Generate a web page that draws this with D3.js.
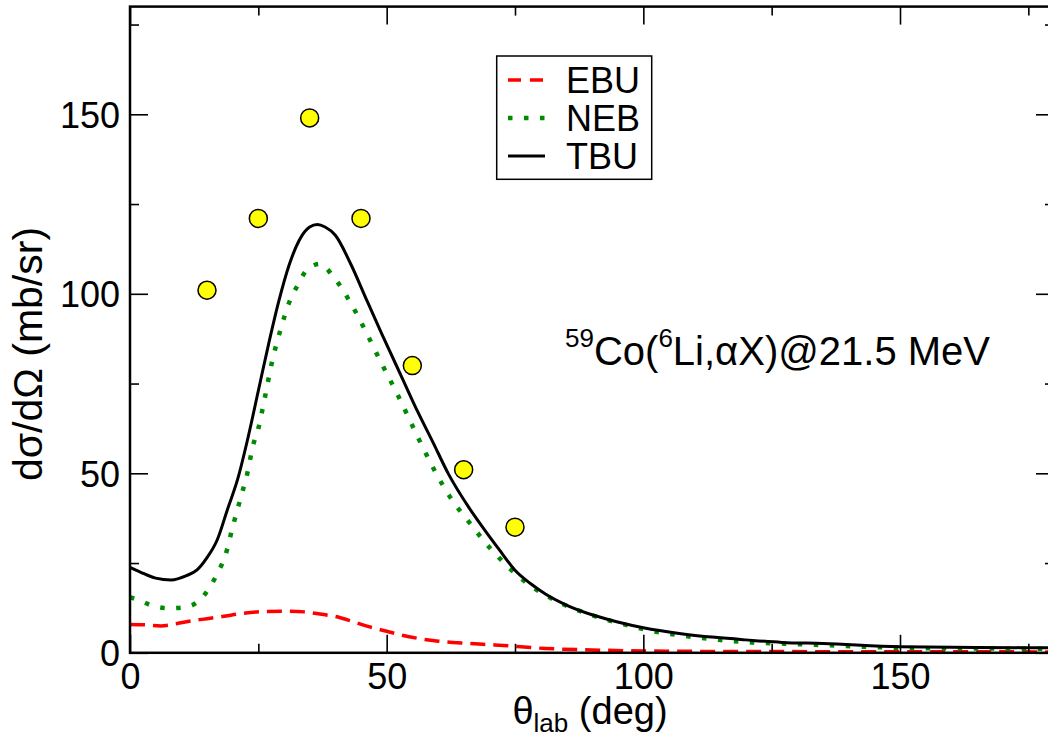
<!DOCTYPE html>
<html>
<head>
<meta charset="utf-8">
<script src="https://cdn.jsdelivr.net/npm/d3@7"></script>
<style>
  body { margin: 0; background: #fff; }
  text { font-family: "Liberation Sans", Arial, sans-serif; fill: #000; }
</style>
</head>
<body>
<svg id="chart"></svg>
<script>
// SET DATA
const tbuAngle = [0, 2, 5, 8, 11, 13, 15, 17, 19, 21, 23, 25, 27, 29, 31, 33, 35, 36.5, 38, 40, 43, 46, 49, 53, 56, 59, 62, 66, 69, 72, 75, 78, 81, 85, 90, 95, 100, 107, 114, 120, 127, 135, 150, 165, 180];
const tbuValue = [23.8, 22.5, 20.8, 20.3, 21.5, 23, 26.5, 31.5, 40, 48.5, 60, 73, 86, 98, 108, 115, 118.6, 119.3, 118.6, 116.3, 108.3, 98.6, 89, 76.6, 67.3, 58.7, 49.9, 40.5, 34.4, 28.6, 23, 19.3, 16.3, 13.3, 10.6, 8.6, 7, 5.4, 4.3, 3.6, 2.9, 2.6, 1.7, 1.5, 1.4];

const nebAngle = [0, 2, 4, 7.5, 10.7, 13.6, 15.6, 17.2, 18.5, 20.1, 21.8, 22.7, 24, 25, 26.3, 27.6, 29.2, 31.2, 32.8, 34.4, 37, 39.6, 43.2, 46.1, 49, 52, 56.2, 59.1, 62.3, 66.2, 70.5, 77.9, 83.4, 89.3, 95.5, 101.6, 108.1, 114.6, 121.1, 130.5, 150, 165, 180];
const nebValue = [15.5, 14.5, 13.3, 12.4, 12.7, 14.7, 18.4, 22.6, 26.8, 35.6, 44.4, 49, 57.9, 62.5, 71.3, 80.6, 89.4, 98.3, 102.7, 106.6, 108.3, 104.8, 96.9, 89, 80.6, 72.3, 59.7, 51.4, 43.5, 36.1, 28.6, 18.8, 14.2, 10.8, 8.2, 6.1, 4.7, 3.6, 2.9, 2.4, 1.4, 1.2, 1.1];

const ebuAngle = [0, 3, 6, 9, 12, 15, 18, 22, 26, 31, 34, 37, 40, 43, 46, 50, 53, 59, 66, 71, 81, 90, 100, 120, 150, 180];
const ebuValue = [7.9, 7.8, 7.5, 8.1, 8.9, 9.5, 10.1, 11, 11.5, 11.6, 11.4, 10.8, 10.1, 8.9, 7.5, 6, 4.9, 3.4, 2.6, 2.2, 1.2, 0.8, 0.5, 0.35, 0.3, 0.25];

const expAngle = [15, 25, 35, 45, 55, 65, 75];
const expValue = [101, 121, 149, 121, 80, 51, 35];

const majorTicks = [0, 50, 100, 150];
const minorTicks = [25, 75, 125, 175];
const legendLabels = ["EBU", "NEB", "TBU"];

// SET VARIABLES
const _canvasWidth = 1048;
const _canvasHeight = 749;
const _plot = {left: 130, right: 1054, top: 6.6, bottom: 652.8};
const _color = {ebu: "#ff0000", neb: "#008b00", tbu: "#000000", point: "#ffff00"};
const _style = {
  EBU: {color: _color.ebu, width: 3.5, dash: "15 8"},
  NEB: {color: _color.neb, width: 4.5, dash: "4.5 11.5"},
  TBU: {color: _color.tbu, width: 3, dash: null}
};

const xScale = d3.scaleLinear().domain([0, 180]).range([_plot.left, _plot.right]);
const yScale = d3.scaleLinear().domain([0, 180]).range([_plot.bottom, _plot.top]);

const svg = d3.select("#chart")
              .attr("width", _canvasWidth)
              .attr("height", _canvasHeight);
    svg.append("rect")
          .attr("width", _canvasWidth)
          .attr("height", _canvasHeight)
          .attr("fill", "#fff");

// CURVES
const lineGen = d3.line()
                  .x(d => xScale(d[0]))
                  .y(d => yScale(d[1]))
                  .curve(d3.curveMonotoneX);

const series = [
  {name: "EBU", data: d3.zip(ebuAngle, ebuValue)},
  {name: "NEB", data: d3.zip(nebAngle, nebValue)},
  {name: "TBU", data: d3.zip(tbuAngle, tbuValue)}
];

const curves = svg.append("g").attr("id", "curves");
    curves.selectAll("path")
          .data(series)
            .enter()
          .append("path")
            .attr("d", d => lineGen(d.data))
            .attr("fill", "none")
            .attr("stroke", d => _style[d.name].color)
            .attr("stroke-width", d => _style[d.name].width)
            .attr("stroke-dasharray", d => _style[d.name].dash);

// EXPERIMENTAL POINTS
    svg.append("g")
          .attr("id", "points")
        .selectAll("circle")
        .data(d3.zip(expAngle, expValue))
          .enter()
        .append("circle")
          .attr("cx", d => xScale(d[0]))
          .attr("cy", d => yScale(d[1]))
          .attr("r", 9)
          .attr("fill", _color.point)
          .attr("stroke", "#000")
          .attr("stroke-width", 1.5);

// AXES (ticks inside on all four sides)
function drawAxis(axisFn, scale, tr, ticks, size, showLabels) {
  let g = svg.append("g")
              .attr("transform", tr)
              .call(axisFn(scale)
                      .tickValues(ticks)
                      .tickSizeInner(-size)
                      .tickSizeOuter(0)
                      .tickPadding(12)
                      .tickFormat(showLabels ? d3.format("d") : ""));
      g.select(".domain").remove();
      g.selectAll(".tick line").attr("stroke", "#000").attr("stroke-width", 1.6);
      g.selectAll(".tick text")
          .attr("font-size", 36)
          .attr("font-family", "Liberation Sans, Arial, sans-serif");
  return g;
}

drawAxis(d3.axisBottom, xScale, `translate(0,${_plot.bottom})`, majorTicks, 18, true)
  .selectAll(".tick text").attr("dy", 0).attr("y", 36);
drawAxis(d3.axisBottom, xScale, `translate(0,${_plot.bottom})`, minorTicks, 9, false);
drawAxis(d3.axisTop, xScale, `translate(0,${_plot.top})`, majorTicks, 18, false);
drawAxis(d3.axisTop, xScale, `translate(0,${_plot.top})`, minorTicks, 9, false);
drawAxis(d3.axisLeft, yScale, `translate(${_plot.left},0)`, majorTicks, 18, true)
  .selectAll(".tick text").attr("x", -10).attr("dy", "0.36em");
drawAxis(d3.axisLeft, yScale, `translate(${_plot.left},0)`, minorTicks, 9, false);
drawAxis(d3.axisRight, yScale, `translate(${_plot.right},0)`, majorTicks, 18, false);
drawAxis(d3.axisRight, yScale, `translate(${_plot.right},0)`, minorTicks, 9, false);

    svg.append("rect")
          .attr("x", _plot.left)
          .attr("y", _plot.top)
          .attr("width", _plot.right - _plot.left)
          .attr("height", _plot.bottom - _plot.top)
          .attr("fill", "none")
          .attr("stroke", "#000")
          .attr("stroke-width", 2.5);

// AXIS TITLES
let xTitle = svg.append("text")
                  .attr("x", 590)
                  .attr("y", 724)
                  .attr("text-anchor", "middle")
                  .attr("font-size", 38);
    xTitle.append("tspan").text("θ");
    xTitle.append("tspan").attr("font-size", 26).attr("dy", 8).text("lab");
    xTitle.append("tspan").attr("dy", -8).text(" (deg)");

    svg.append("text")
          .attr("transform", `translate(42,354) rotate(-90)`)
          .attr("text-anchor", "middle")
          .attr("font-size", 41)
          .text("dσ/dΩ (mb/sr)");

// ANNOTATION
let note = svg.append("text")
                .attr("x", 565)
                .attr("y", 365)
                .attr("font-size", 40);
    note.append("tspan").attr("font-size", 26).attr("dy", -18).text("59");
    note.append("tspan").attr("dy", 18).text("Co(");
    note.append("tspan").attr("font-size", 26).attr("dy", -18).text("6");
    note.append("tspan").attr("dy", 18).text("Li,αX)@21.5 MeV");

// LEGEND
let legend = svg.append("g").attr("id", "legend");
    legend.append("rect")
            .attr("x", 496.7)
            .attr("y", 56)
            .attr("width", 155)
            .attr("height", 123.3)
            .attr("fill", "#fff")
            .attr("stroke", "#000")
            .attr("stroke-width", 1.5);
let items = legend.selectAll("g.item")
                  .data(legendLabels)
                    .enter()
                  .append("g")
                    .attr("class", "item")
                    .attr("transform", (d, i) => `translate(0, ${80 + i * 38})`);
    items.append("line")
            .attr("x1", 508)
            .attr("x2", 545)
            .attr("stroke", d => _style[d].color)
            .attr("stroke-width", d => _style[d].width)
            .attr("stroke-dasharray", d => d === "EBU" ? "13 9" : _style[d].dash);
    items.append("text")
            .attr("x", 566)
            .attr("y", 13)
            .attr("font-size", 36)
            .text(d => d);
</script>
</body>
</html>
